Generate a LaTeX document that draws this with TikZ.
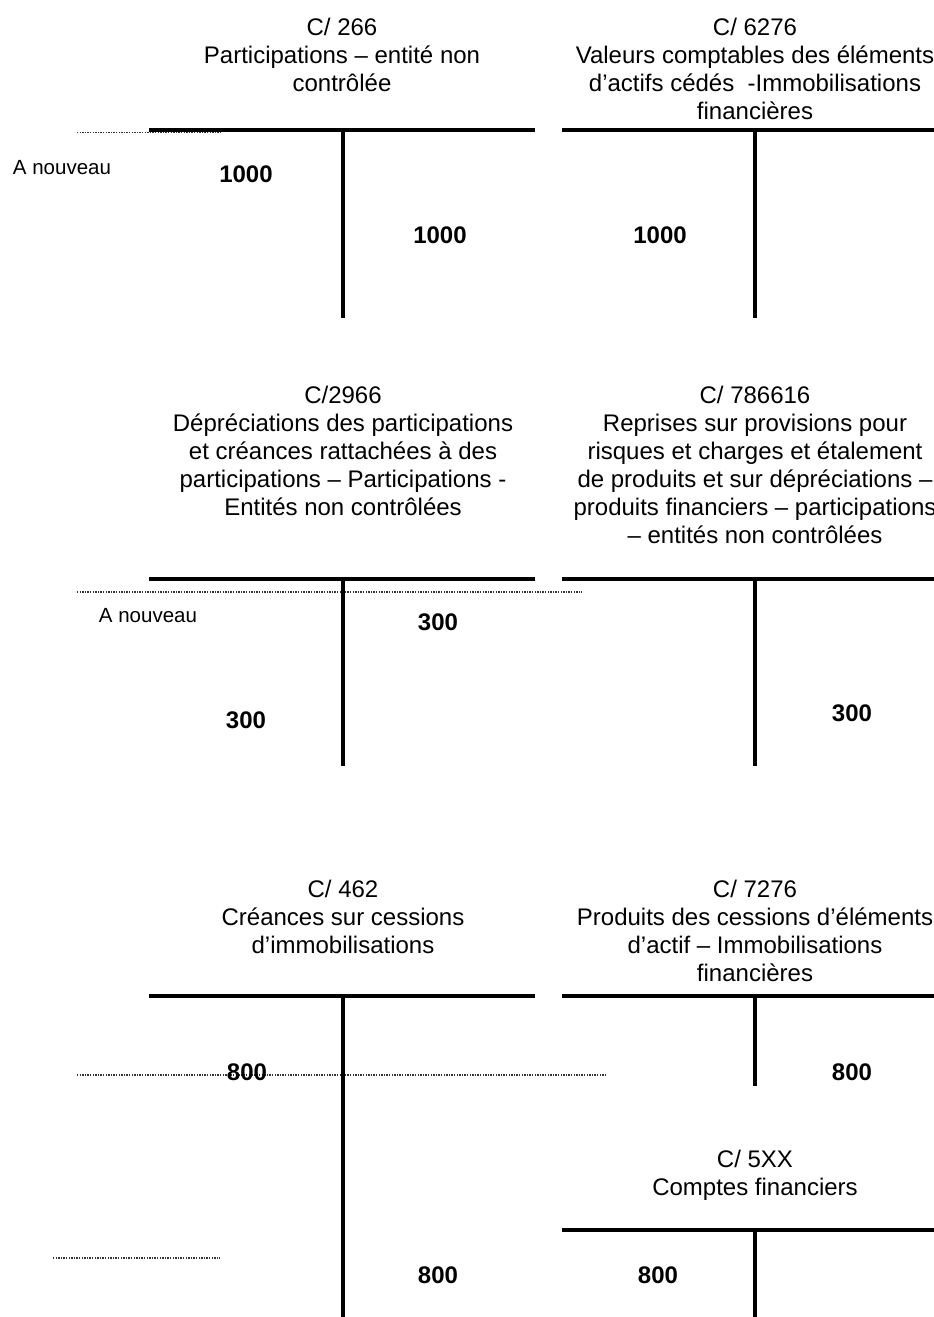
\documentclass[tikz,border=0pt]{standalone}
\usepackage{fontspec}
\setmainfont{Liberation Sans}
\begin{document}
\begin{tikzpicture}[x=1pt,y=-1pt,
  tline/.style={line width=4.5pt},
  dotline/.style={line width=1.4pt, black!80, dash pattern=on 1.3pt off 1.3pt},
  head/.style={align=center, anchor=north, inner sep=0pt, font=\fontsize{24}{28}\selectfont},
  num/.style={inner sep=0pt, font=\fontsize{24}{28}\selectfont\bfseries},
  lbl/.style={inner sep=0pt, font=\fontsize{20.5}{24}\selectfont}]
\useasboundingbox (0,0) rectangle (934,1317);

% ---- headings
\node[head] (h266) at (342,17.5) {C/ 266\\Participations – entité non\\contrôlée};
\node[head] (h6276) at (755,17.5) {C/ 6276\\Valeurs comptables des éléments\\d’actifs cédés\ \ -Immobilisations\\financières};
\node[head] (h2966) at (343,385.5) {C/2966\\Dépréciations des participations\\et créances rattachées à des\\participations – Participations -\\Entités non contrôlées};
\node[head] (h786616) at (755,385.5) {C/ 786616\\Reprises sur provisions pour\\risques et charges et étalement\\de produits et sur dépréciations –\\produits financiers – participations\\– entités non contrôlées};
\node[head] (h462) at (343,879.5) {C/ 462\\Créances sur cessions\\d’immobilisations};
\node[head] (h7276) at (755,879.5) {C/ 7276\\Produits des cessions d’éléments\\d’actif – Immobilisations\\financières};
\node[head] (h5xx) at (755,1149.5) {C/ 5XX\\Comptes financiers};

% ---- dotted lines (drawn first, under the T lines)
\coordinate (d1a) at (77,132.5);  \coordinate (d1b) at (222,132.5);
\coordinate (d2a) at (77,592);    \coordinate (d2b) at (582,592);
\coordinate (d3a) at (77,1075);   \coordinate (d3b) at (607,1075);
\coordinate (d4a) at (53,1258);   \coordinate (d4b) at (220,1258);
\draw[dotline] (d1a) -- (d1b);
\draw[dotline] (d2a) -- (d2b);
\draw[dotline] (d3a) -- (d3b);
\draw[dotline] (d4a) -- (d4b);

% ---- T accounts
% top row
\coordinate (t1l) at (149,130); \coordinate (t1r) at (535,130);
\coordinate (t1v) at (343,130); \coordinate (t1b) at (343,318);
\draw[tline] (t1l) -- (t1r); \draw[tline] (t1v) -- (t1b);
\coordinate (t2l) at (562,130); \coordinate (t2r) at (934,130);
\coordinate (t2v) at (755,130); \coordinate (t2b) at (755,318);
\draw[tline] (t2l) -- (t2r); \draw[tline] (t2v) -- (t2b);
% middle row
\coordinate (t3l) at (149,579); \coordinate (t3r) at (535,579);
\coordinate (t3v) at (343,579); \coordinate (t3b) at (343,766);
\draw[tline] (t3l) -- (t3r); \draw[tline] (t3v) -- (t3b);
\coordinate (t4l) at (562,579); \coordinate (t4r) at (934,579);
\coordinate (t4v) at (755,579); \coordinate (t4b) at (755,766);
\draw[tline] (t4l) -- (t4r); \draw[tline] (t4v) -- (t4b);
% bottom row
\coordinate (t5l) at (149,996); \coordinate (t5r) at (535,996);
\coordinate (t5v) at (343,996); \coordinate (t5b) at (343,1317);
\draw[tline] (t5l) -- (t5r); \draw[tline] (t5v) -- (t5b);
\coordinate (t6l) at (562,996); \coordinate (t6r) at (934,996);
\coordinate (t6v) at (755,996); \coordinate (t6b) at (755,1086);
\draw[tline] (t6l) -- (t6r); \draw[tline] (t6v) -- (t6b);
\coordinate (t7l) at (562,1230); \coordinate (t7r) at (934,1230);
\coordinate (t7v) at (755,1230); \coordinate (t7b) at (755,1317);
\draw[tline] (t7l) -- (t7r); \draw[tline] (t7v) -- (t7b);

% ---- labels
\node[lbl] (an1) at (62,168) {A nouveau};
\node[lbl] (an2) at (148,616) {A nouveau};

% ---- amounts
\node[num] (n1) at (246,174) {1000};
\node[num] (n2) at (440,235) {1000};
\node[num] (n3) at (660,235) {1000};
\node[num] (n4) at (438,622) {300};
\node[num] (n5) at (246,720) {300};
\node[num] (n6) at (852,713) {300};
\node[num] (n7) at (247,1072) {800};
\node[num] (n8) at (852,1072) {800};
\node[num] (n9) at (438,1275) {800};
\node[num] (n10) at (658,1275) {800};
\end{tikzpicture}
\end{document}
